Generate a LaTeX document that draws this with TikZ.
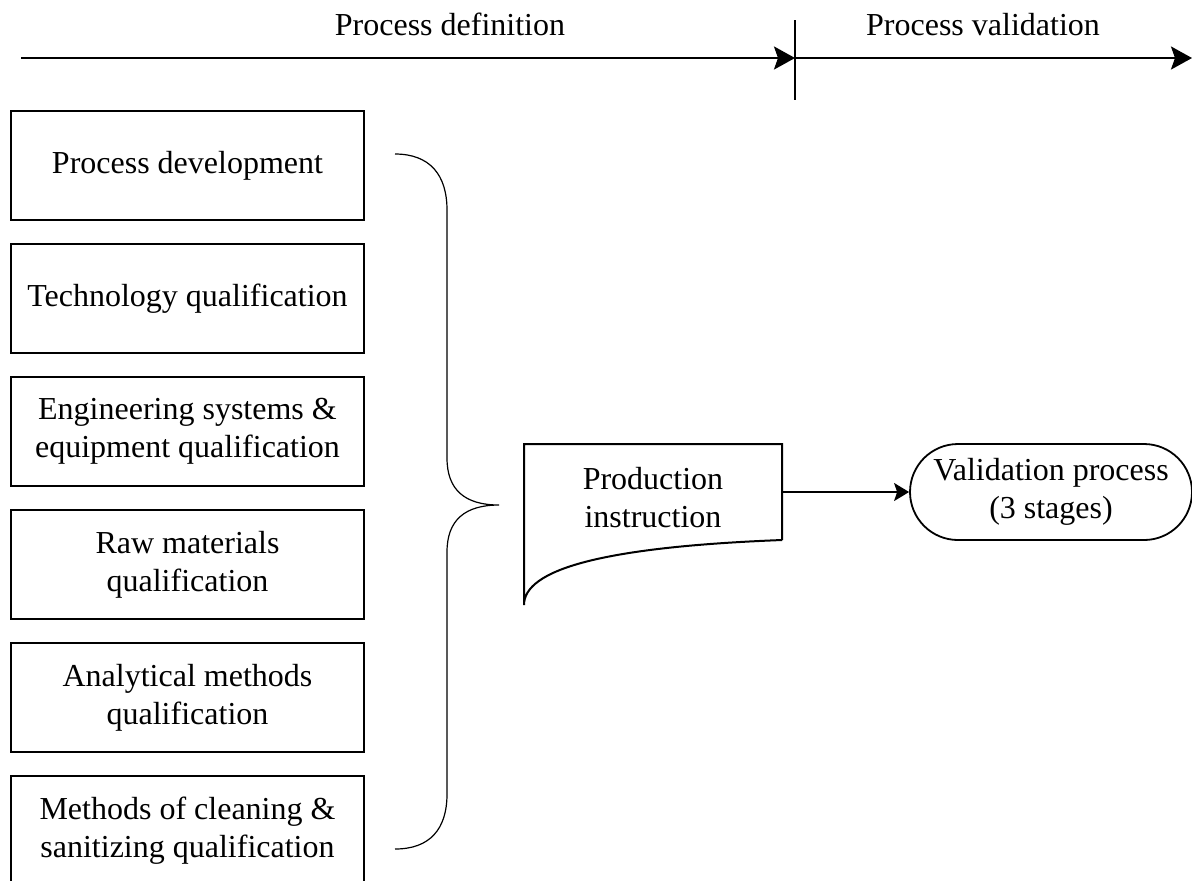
\documentclass[tikz,border=0pt]{standalone}
\usepackage{fontspec}
\setmainfont{Liberation Serif}
\usetikzlibrary{arrows.meta, positioning}

\begin{document}
\begin{tikzpicture}[
        x=0.5pt, y=-0.5pt,
        node distance = 11pt,
        block/.style = {rectangle, draw, line width=1pt, minimum width=176.5pt, minimum height=54.5pt, align=center, font=\fontsize{16}{19}\selectfont},
        docbox/.style = {rectangle, minimum width=129pt, minimum height=48pt, align=center, font=\fontsize{16}{19}\selectfont},
        terminal/.style = {rectangle, draw, line width=0.9pt, rounded corners=24pt, minimum width=141pt, minimum height=48pt, align=center, font=\fontsize{16}{19}\selectfont},
        phase/.style = {anchor=base, font=\fontsize{16}{19}\selectfont},
        axis/.style = {line width=1.25pt},
        axarrow/.style = {-{Stealth[length=10.5pt, width=11.5pt, inset=2pt]}, line width=1.25pt},
        arrow/.style = {-{Stealth[length=7.5pt, width=9pt, inset=1.5pt]}, line width=0.7pt},
        brace/.style = {line width=0.6pt}
    ]
        \clip (0,0) rectangle (1192,880);

        % Top: timeline
        \coordinate (axL) at (21,58);
        \coordinate (axM) at (795,58);
        \coordinate (axR) at (1192,58);
        \coordinate (tickT) at (795,20);
        \coordinate (tickB) at (795,100);
        \node[phase] (defn) at (450,35) {Process definition};
        \node[phase] (valn) at (983,35) {Process validation};

        % Left column: qualification steps
        \node[block, anchor=north west] (dev) at (10,110) {Process development};
        \node[block, below=of dev] (tech) {Technology qualification};
        \node[block, below=of tech] (eng) {Engineering systems \&\\equipment qualification};
        \node[block, below=of eng] (raw) {Raw materials\\qualification};
        \node[block, below=of raw] (anal) {Analytical methods\\qualification};
        \node[block, below=of anal] (clean) {Methods of cleaning \&\\sanitizing qualification};

        % Brace
        \coordinate (bTop) at (395,154);
        \coordinate (bTip) at (499,505);
        \coordinate (bBot) at (395,849);

        % Right: document and terminal
        \node[docbox] (instr) at (653,498) {Production\\instruction};
        \coordinate (foot) at (524,605);
        \node[terminal] (valid) at (1051,492) {Validation process\\(3 stages)};

        % Connections
        \draw [axarrow] (axL) -- (axM);
        \draw [axarrow] (axM) -- (axR);
        \draw [axis] (tickT) -- (tickB);

        \draw [brace] (bTop) .. controls (430,154) and (447,175) .. (447,210)
            -- (447,458) .. controls (447,490) and (465,505) .. (bTip)
            .. controls (465,505) and (447,520) .. (447,552)
            -- (447,794) .. controls (447,829) and (430,849) .. (bBot);

        \draw [line width=1pt] (782,540) -- (782,444) -- (524,444) -- (foot)
            .. controls (524,570) and (600,547) .. (782,540);

        \draw [arrow] (instr.east |- valid.west) -- (valid.west);

\end{tikzpicture}
\end{document}
